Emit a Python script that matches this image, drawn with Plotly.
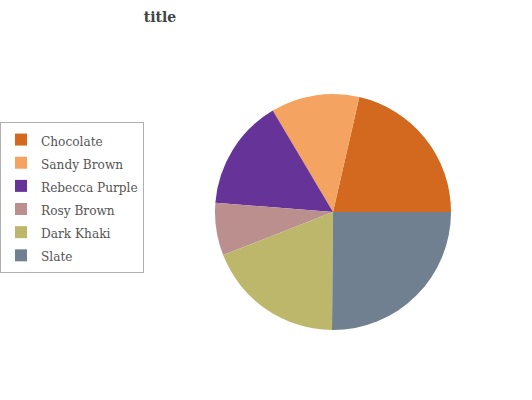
import plotly.graph_objects as go

labels = ["Chocolate", "Sandy Brown", "Rebecca Purple", "Rosy Brown", "Dark Khaki", "Slate"]
values = [21.4, 12.1, 15.2, 7.2, 18.9, 25.1]
colors = ["#D2691E", "#F4A460", "#663399", "#BC8F8F", "#BDB76B", "#708090"]

W, H = 532, 400
cx, cy, r = 333, 212, 118

# legend text drawn slightly smaller than the legend's row font (for roomier rows)
legend_text = [f"<span style='font-size:13.5px'>{l}</span>" for l in labels]

fig = go.Figure(go.Pie(
    labels=legend_text,
    values=values,
    marker=dict(colors=colors, line=dict(width=0)),
    sort=False,
    direction="counterclockwise",
    rotation=12.9,
    textinfo="none",
    hoverinfo="label+value",
    domain=dict(x=[(cx - r) / W, (cx + r) / W], y=[1 - (cy + r) / H, 1 - (cy - r) / H]),
))

fig.update_layout(
    width=W, height=H,
    margin=dict(l=0, r=0, t=0, b=0),
    paper_bgcolor="white",
    plot_bgcolor="white",
    title=dict(text="<b>title</b>", x=160 / W, xref="container", xanchor="center",
               y=1 - 17 / H, yref="container", yanchor="middle",
               font=dict(family="DejaVu Serif", size=14, color="#444444")),
    legend=dict(x=0, y=1 - 122 / H, xanchor="left", yanchor="top",
                bordercolor="#b0b0b0", borderwidth=1,
                font=dict(family="DejaVu Serif Condensed, DejaVu Serif", size=15.5, color="#555555"),
                bgcolor="white"),
    showlegend=True,
)

fig.write_html("out.html", config={"displayModeBar": False},
               post_script="document.body.style.margin='0';")
